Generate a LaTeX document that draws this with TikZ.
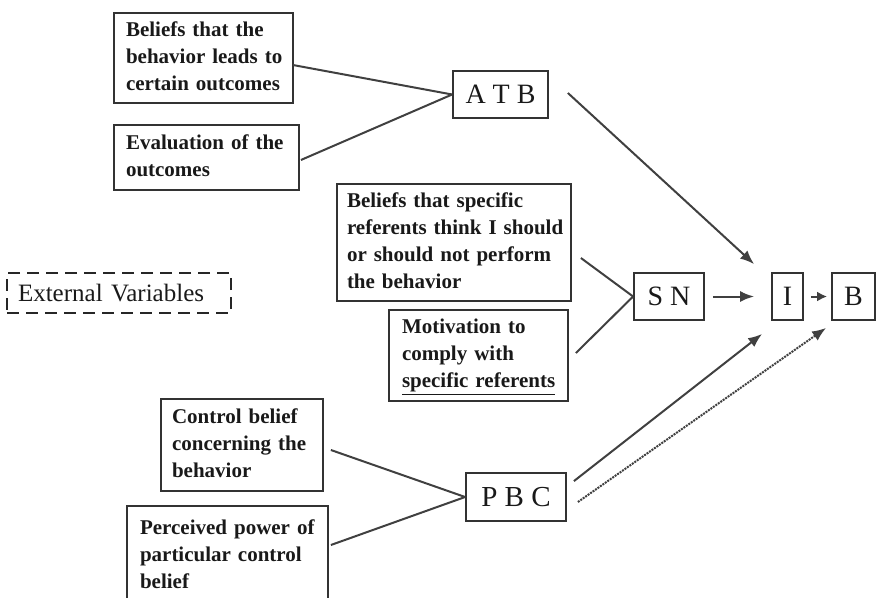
\documentclass[tikz,border=0pt]{standalone}
\usepackage{fontspec}
\setmainfont{Liberation Serif}
\usetikzlibrary{arrows.meta,calc}
\newcommand\mylines[1]{\begin{tabular}{@{}l@{}}#1\end{tabular}}
\begin{document}
\begin{tikzpicture}[x=1pt,y=-1pt,
  box/.style={draw=black!80, line width=1.8pt, inner xsep=0pt, inner ysep=0pt, align=left,
    font=\fontsize{21}{27}\selectfont\bfseries, text=black!90},
  lab/.style={draw=black!80, line width=1.8pt, inner sep=0pt,
    font=\fontsize{28}{30}\selectfont, text=black!90, minimum height=47pt},
  conn/.style={draw=black!75, line width=2pt},
  arr/.style={conn, -{Latex[length=14pt,width=11pt]}},
]
\useasboundingbox (0,0) rectangle (878,597);

% belief boxes
\node[box, minimum width=179pt, minimum height=90pt, text width=155pt] (b1) at (203.5,58)
  {\mylines{Beliefs that the\\behavior leads to\\certain outcomes}};
\node[box, minimum width=185pt, minimum height=65pt, text width=161pt] (b2) at (206.5,157.5)
  {\mylines{Evaluation of the\\outcomes}};
\node[box, minimum width=234pt, minimum height=117pt, text width=214pt] (b4) at (454,242.5)
  {\mylines{Beliefs that specific\\referents think I should\\or should not perform\\the behavior}};
\node[box, minimum width=179pt, minimum height=91pt, text width=153pt] (b5) at (478.5,355.5)
  {\mylines{Motivation to\\comply with\\\underline{specific referents}}};
\node[box, minimum width=162pt, minimum height=92pt, text width=140pt] (b10) at (242,445)
  {\mylines{Control belief\\concerning the\\behavior}};
\node[box, minimum width=201pt, minimum height=100pt, text width=175pt] (b11) at (227.5,556)
  {\mylines{Perceived power of\\particular control\\belief}};

% construct boxes
\node[lab, minimum width=95pt] (atb) at (500.5,94.5) {A T B};
\node[lab, minimum width=70pt] (sn) at (669,296.5) {S N};
\node[lab, minimum width=31pt] (i) at (787.5,296.5) {I};
\node[lab, minimum width=43pt] (b) at (853.5,296.5) {B};
\node[lab, minimum width=100pt, minimum height=48pt, font=\fontsize{29}{30}\selectfont] (pbc) at (516,497) {P B C};

% external variables
\node[draw=black!85, line width=2pt, dash pattern=on 12pt off 7pt, inner xsep=0pt, inner ysep=0pt,
  minimum width=224pt, minimum height=40pt, text width=202pt, align=left,
  font=\fontsize{25}{28}\selectfont, text=black!90] (ext) at (119,293) {External Variables};

% connectors
\draw[conn] ($(b1.east)+(-1,7)$) -- (atb.west);
\draw[conn] ($(b2.east)+(1,2.5)$) -- (atb.west);
\draw[conn] ($(b4.east)+(9,15.5)$) -- (sn.west);
\draw[conn] ($(b5.east)+(7,-2.5)$) -- (sn.west);
\draw[conn] ($(b10.east)+(7,5)$) -- (pbc.west);
\draw[conn] ($(b11.east)+(2,-11)$) -- (pbc.west);

% arrows
\draw[arr] ($(atb.east)+(19,-1.5)$) -- ($(i.north west)+(-17,-8)$);
\draw[arr, shorten <=8pt, shorten >=17pt] (sn.east) -- (i.west);
\draw[arr, shorten <=7pt, shorten >=4pt, -{Latex[length=10pt,width=10pt]}] (i.east) -- (b.west);
\draw[arr] ($(pbc.north east)+(7,9)$) -- ($(i.south west)+(-9,13)$);
\draw[arr, densely dotted] ($(pbc.east)+(11,5)$) -- ($(b.south west)+(-5,7)$);
\end{tikzpicture}
\end{document}
